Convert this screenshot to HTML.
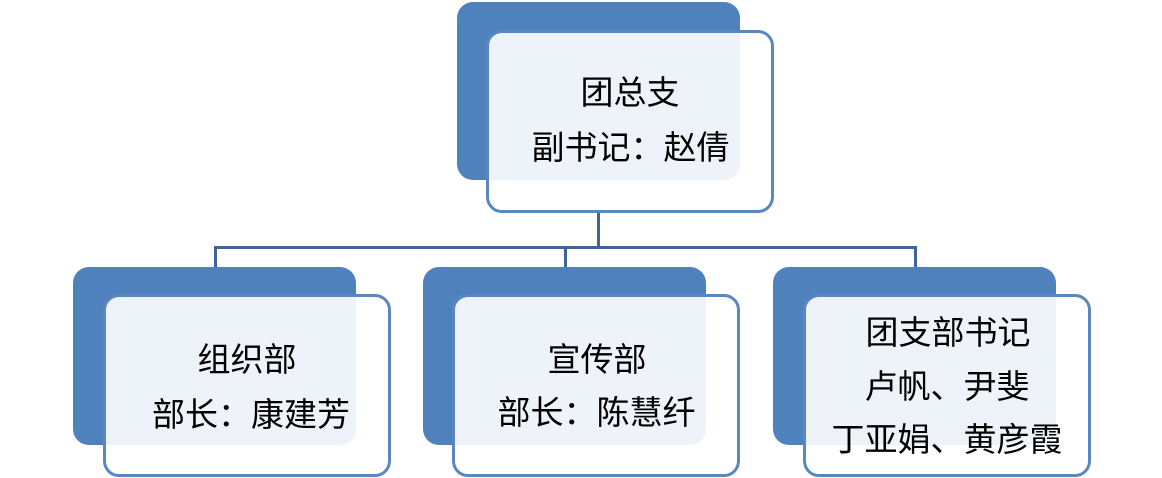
<!DOCTYPE html>
<html><head><meta charset="utf-8"><style>
body{margin:0;width:1162px;height:478px;background:#fff;position:relative;overflow:hidden;font-family:"Liberation Sans","Noto Sans CJK SC",sans-serif;}
.b{position:absolute;background:#4f81bd;border-radius:16px;}
.f{position:absolute;background:rgba(255,255,255,0.9);border:3px solid #5b87c0;border-radius:16px;box-sizing:border-box;}
.l{position:absolute;background:#3d6597;}
.t{position:absolute;font-size:33px;color:#000;white-space:nowrap;text-align:center;line-height:1;}
</style></head><body>
<div class="l" style="left:597px;top:212px;width:3px;height:36px"></div>
<div class="l" style="left:214px;top:246px;width:703px;height:3px"></div>
<div class="l" style="left:214px;top:246px;width:3px;height:22px"></div>
<div class="l" style="left:564px;top:246px;width:3px;height:22px"></div>
<div class="l" style="left:914px;top:246px;width:3px;height:22px"></div>

<div class="b" style="left:457px;top:2px;width:283px;height:178px"></div>
<div class="f" style="left:486px;top:30px;width:288px;height:183px"></div>
<div class="t" style="left:530px;top:76px;width:200px">团总支</div>
<div class="t" style="left:528px;top:131px;width:205px">副书记：赵倩</div>

<div class="b" style="left:73px;top:267px;width:283px;height:178px"></div>
<div class="f" style="left:103px;top:294px;width:288px;height:183px"></div>
<div class="t" style="left:147px;top:343px;width:200px">组织部</div>
<div class="t" style="left:145px;top:398px;width:212px">部长：康建芳</div>

<div class="b" style="left:423px;top:267px;width:283px;height:178px"></div>
<div class="f" style="left:452px;top:294px;width:288px;height:183px"></div>
<div class="t" style="left:497px;top:343px;width:200px">宣传部</div>
<div class="t" style="left:495px;top:396px;width:203px">部长：陈慧纤</div>

<div class="b" style="left:773px;top:267px;width:283px;height:178px"></div>
<div class="f" style="left:803px;top:294px;width:288px;height:183px"></div>
<div class="t" style="left:848px;top:316px;width:200px">团支部书记</div>
<div class="t" style="left:847px;top:370px;width:200px">卢帆、尹斐</div>
<div class="t" style="left:827px;top:423px;width:240px">丁亚娟、黄彦霞</div>
</body></html>
